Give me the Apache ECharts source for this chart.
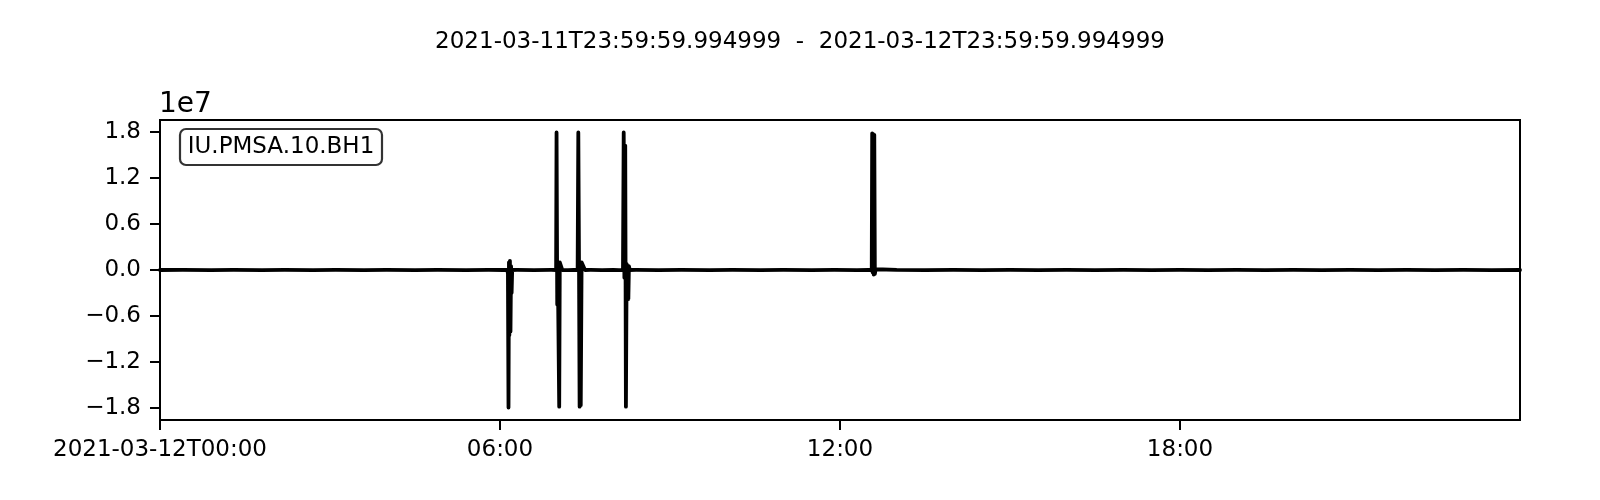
<!DOCTYPE html>
<html>
<head>
<meta charset="utf-8">
<script src="https://cdn.jsdelivr.net/npm/echarts@6/dist/echarts.min.js"></script>
<style>
html,body{margin:0;padding:0;background:#fff;}
#chart{width:1600px;height:500px;}
</style>
</head>
<body>
<div id="chart"></div>
<script>
// Title / labels
const titleText = '2021-03-11T23:59:59.994999  -  2021-03-12T23:59:59.994999';
const traceId = 'IU.PMSA.10.BH1';
const offsetText = '1e7';

// X axis: hours since 2021-03-12T00:00
const xTickValues = [0, 6, 12, 18];
const xTickLabels = ['2021-03-12T00:00', '06:00', '12:00', '18:00'];

// Y axis ticks (counts)
const yTickValues = [-18000000, -12000000, -6000000, 0, 6000000, 12000000, 18000000];
const yTickLabels = ['\u22121.8', '\u22121.2', '\u22120.6', '0.0', '0.6', '1.2', '1.8'];

// Trace samples: time (hours) and amplitude (counts)
const timeHours = [
  0, 0.4, 0.9, 1.3, 1.8, 2.2, 2.7, 3.1, 3.6, 4.0, 4.5, 4.9, 5.4, 5.8, 6.05,
  6.130, 6.140, 6.150, 6.158, 6.165, 6.175, 6.185, 6.195, 6.205, 6.215,
  6.3, 6.6, 6.9,
  6.990, 6.998, 7.010, 7.020, 7.045, 7.055, 7.070, 7.090, 7.100,
  7.2, 7.3,
  7.370, 7.382, 7.395, 7.405, 7.415, 7.425, 7.440, 7.470, 7.500,
  7.6, 7.8, 8.0, 8.1,
  8.170, 8.183, 8.195, 8.210, 8.222, 8.235, 8.250, 8.265, 8.275, 8.290,
  8.4, 8.8, 9.2, 9.7, 10.1, 10.6, 11.0, 11.5, 11.9, 12.3, 12.5,
  12.560, 12.568, 12.575, 12.585, 12.595, 12.605, 12.615, 12.630, 12.650,
  13.0, 13.5, 14.0, 14.5, 15.0, 15.5, 16.0, 16.5, 17.0, 17.5, 18.0, 18.5,
  19.0, 19.5, 20.0, 20.5, 21.0, 21.5, 22.0, 22.5, 23.0, 23.5, 24.0
];
const amplitude = [
  0, 8000, -6000, 5000, -7000, 6000, -5000, 8000, -6000, 5000, -7000, 6000, -5000, 4000, 0,
  0, -500000, -17900000, 1000000, -8500000, 1200000, -8000000, 500000, -3000000, 0,
  6000, -5000, 4000,
  0, 17900000, -4500000, 500000, -17800000, 1000000, 800000, 1000000, 0,
  -6000, 5000,
  0, 17900000, -500000, -17800000, 500000, -17600000, 1000000, 800000, 0,
  6000, -5000, 7000, -6000,
  0, 17900000, -1000000, 16200000, -17800000, 800000, -500000, -3800000, 500000, 0,
  5000, -6000, 7000, -5000, 6000, -7000, 5000, -6000, 7000, -5000, 0,
  0, 17800000, -300000, 17700000, -600000, 17600000, -500000, 100000, 0,
  6000, -5000, 7000, -6000, 5000, -7000, 6000, -5000, 7000, -6000, 5000, -7000,
  6000, -5000, 7000, -6000, 5000, -7000, 6000, -5000, 7000, -6000, 0
];

const FONT = 'DejaVu Sans';
const chart = echarts.init(document.getElementById('chart'), null, {renderer: 'canvas'});

const data = timeHours.map((t, i) => [t, amplitude[i]]);

chart.setOption({
  animation: false,
  backgroundColor: '#ffffff',
  grid: {
    left: 160, right: 80, top: 120, bottom: 80,
    show: true, borderColor: '#000', borderWidth: 2, backgroundColor: 'transparent'
  },
  xAxis: {
    type: 'value',
    min: 0, max: 24, interval: 6,
    axisLine: {show: true, onZero: false, lineStyle: {color: '#000', width: 2}},
    axisTick: {show: true, inside: false, length: 10, lineStyle: {color: '#000', width: 2}},
    splitLine: {show: false},
    axisLabel: {
      show: true, margin: 19, color: '#000', fontFamily: FONT, fontSize: 23,
      formatter: function (v) {
        const i = xTickValues.indexOf(v);
        return i >= 0 ? xTickLabels[i] : '';
      },
      showMinLabel: true, showMaxLabel: false
    }
  },
  yAxis: {
    type: 'value',
    min: -19530000, max: 19530000,
    axisLine: {show: true, lineStyle: {color: '#000', width: 2}},
    axisTick: {show: true, inside: false, length: 10, customValues: yTickValues, lineStyle: {color: '#000', width: 2}},
    splitLine: {show: false},
    axisLabel: {
      show: true, margin: 19, color: '#000', fontFamily: FONT, fontSize: 23,
      customValues: yTickValues,
      formatter: function (v) {
        const i = yTickValues.indexOf(v);
        return i >= 0 ? yTickLabels[i] : '';
      }
    }
  },
  series: [{
    type: 'line',
    data: data,
    showSymbol: false,
    symbol: 'none',
    smooth: false,
    clip: true,
    lineStyle: {color: '#000', width: 3.8, cap: 'round', join: 'round'},
    silent: true
  }],
  graphic: [
    {
      type: 'text', left: 'center', top: 31,
      style: {text: titleText, fontFamily: FONT, fontSize: 23, fill: '#000'}
    },
    {
      type: 'text', x: 159, y: 105,
      style: {text: offsetText, fontFamily: FONT, fontSize: 28, fill: '#000', verticalAlign: 'middle', align: 'left'}
    },
    {
      type: 'rect', shape: {x: 180, y: 129, width: 202, height: 36, r: 6},
      style: {fill: '#fff', stroke: '#333', lineWidth: 2.2}
    },
    {
      type: 'text', x: 281, y: 147,
      style: {text: traceId, fontFamily: FONT, fontSize: 23, fill: '#000', align: 'center', verticalAlign: 'middle'}
    }
  ]
});
</script>
</body>
</html>
